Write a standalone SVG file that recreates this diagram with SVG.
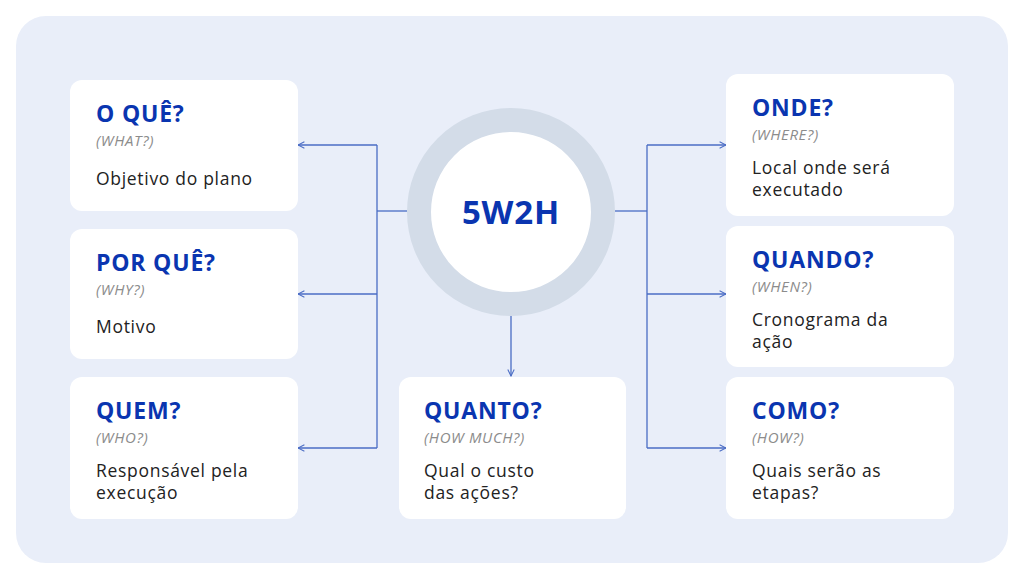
<svg xmlns="http://www.w3.org/2000/svg" width="1024" height="579" viewBox="0 0 1024 579">
<defs>
<style>
.card{fill:#fff}
.t{font-family:"Open Sans","Noto Sans","Liberation Sans",sans-serif;font-weight:700;font-size:23px;letter-spacing:0.8px;fill:#0A35B0}
.s{font-family:"Open Sans","Noto Sans","Liberation Sans",sans-serif;font-style:italic;font-size:15px;letter-spacing:0.6px;fill:#8C8C8C}
.b{font-family:"Open Sans","Noto Sans","Liberation Sans",sans-serif;font-size:17.5px;letter-spacing:0.7px;fill:#222}
.c{fill:none;stroke:#4A6CC4;stroke-width:1.3}
</style>
<marker id="a" viewBox="0 0 10 10" refX="9" refY="5" markerWidth="8" markerHeight="8" orient="auto" markerUnits="userSpaceOnUse"><path d="M1 1L9 5L1 9" fill="none" stroke="#4A6CC4" stroke-width="1.3"/></marker>
</defs>
<rect width="1024" height="579" fill="#fff"/>
<rect x="16" y="16" width="992" height="547" rx="30" fill="#E9EEF9"/>
<g id="connectors" class="c">
<path d="M407 211H377"/><path d="M377 145V448"/>
<path d="M377 145H298" marker-end="url(#a)"/>
<path d="M377 294H298" marker-end="url(#a)"/>
<path d="M377 448H298" marker-end="url(#a)"/>
<path d="M615 211H647"/><path d="M647 145V448"/>
<path d="M647 145H726" marker-end="url(#a)"/>
<path d="M647 294H726" marker-end="url(#a)"/>
<path d="M647 448H726" marker-end="url(#a)"/>
<path d="M511 316V376" marker-end="url(#a)"/>
</g>
<g id="center">
<circle cx="511" cy="212" r="92" fill="#fff" stroke="#D3DCE8" stroke-width="24"/>
<text x="511" y="224" text-anchor="middle" class="t" style="font-size:33px">5W2H</text>
</g>
<g id="what"><rect class="card" x="70" y="80" width="228" height="131" rx="12"/>
<text class="t" x="96" y="122">O QUÊ?</text><text class="s" x="96" y="146">(WHAT?)</text><text class="b" x="96" y="185">Objetivo do plano</text></g>
<g id="why"><rect class="card" x="70" y="229" width="228" height="130" rx="12"/>
<text class="t" x="96" y="271">POR QUÊ?</text><text class="s" x="96" y="295">(WHY?)</text><text class="b" x="96" y="333">Motivo</text></g>
<g id="who"><rect class="card" x="70" y="377" width="228" height="142" rx="12"/>
<text class="t" x="96" y="419">QUEM?</text><text class="s" x="96" y="443">(WHO?)</text><text class="b" x="96" y="477">Responsável pela</text><text class="b" x="96" y="499">execução</text></g>
<g id="howmuch"><rect class="card" x="399" y="377" width="227" height="142" rx="12"/>
<text class="t" x="424" y="419">QUANTO?</text><text class="s" x="424" y="443">(HOW MUCH?)</text><text class="b" x="424" y="477">Qual o custo</text><text class="b" x="424" y="499">das ações?</text></g>
<g id="where"><rect class="card" x="726" y="74" width="228" height="142" rx="12"/>
<text class="t" x="752" y="116">ONDE?</text><text class="s" x="752" y="140">(WHERE?)</text><text class="b" x="752" y="174">Local onde será</text><text class="b" x="752" y="196">executado</text></g>
<g id="when"><rect class="card" x="726" y="226" width="228" height="141" rx="12"/>
<text class="t" x="752" y="268">QUANDO?</text><text class="s" x="752" y="292">(WHEN?)</text><text class="b" x="752" y="326">Cronograma da</text><text class="b" x="752" y="348">ação</text></g>
<g id="how"><rect class="card" x="726" y="377" width="228" height="142" rx="12"/>
<text class="t" x="752" y="419">COMO?</text><text class="s" x="752" y="443">(HOW?)</text><text class="b" x="752" y="477">Quais serão as</text><text class="b" x="752" y="499">etapas?</text></g>
</svg>
